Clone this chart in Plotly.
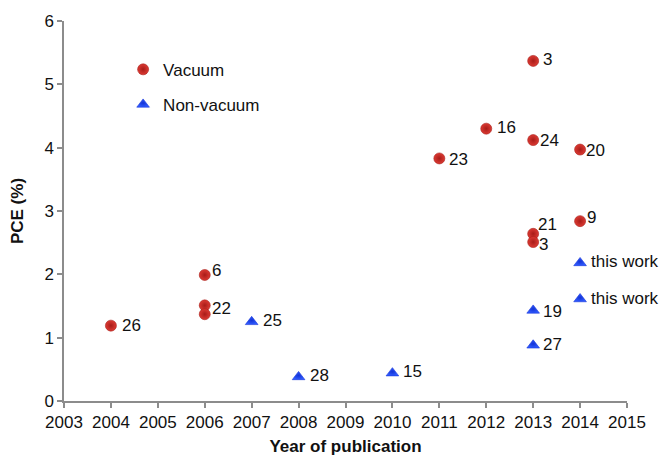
import plotly.graph_objects as go

# ---- data ----
vac_year = [2004, 2006, 2006, 2006, 2011, 2012, 2013, 2013, 2014, 2014, 2013, 2013]
vac_pce = [1.19, 1.99, 1.51, 1.37, 3.83, 4.30, 5.37, 4.12, 3.97, 2.84, 2.64, 2.51]
vac_label = ["26", "6", "22", "", "23", "16", "3", "24", "20", "9", "21", "3"]

nv_year = [2007, 2008, 2010, 2013, 2013, 2014, 2014]
nv_pce = [1.25, 0.38, 0.44, 1.43, 0.88, 2.18, 1.61]
nv_label = ["25", "28", "15", "19", "27", "this work", "this work"]

x_ticks = list(range(2003, 2016))
y_ticks = [0, 1, 2, 3, 4, 5, 6]

# ---- label offsets (style, pixels) ----
vac_dx = [9, 5, 5, 0, 8, 9, 8, 5, 4, 5, 3, 4]
vac_dy = [0, 4, -3, 0, -1, 1, 1, 0, -1, 4, 9, -2]
nv_dx = [9, 9, 9, 8, 8, 9, 9]
nv_dy = [1, 1, 2, -1, 1, 1, 1]

FONT = "Liberation Sans, Arial, Helvetica, sans-serif"
RED = "#dc3a33"
RED_EDGE = "#a81c18"
BLUE = "#2f5bff"
BLUE_EDGE = "#1433d6"

fig = go.Figure()
fig.add_trace(go.Scatter(
    x=vac_year, y=vac_pce, mode="markers", name="Vacuum",
    marker=dict(symbol="circle", size=11, color=RED,
                gradient=dict(type="radial", color=RED_EDGE),
                line=dict(width=0.6, color=RED_EDGE)),
    legendgroup="a",
))
fig.add_trace(go.Scatter(
    x=nv_year, y=nv_pce, mode="markers", name="Non-vacuum",
    marker=dict(symbol="triangle-up", size=11, color=BLUE,
                gradient=dict(type="radial", color=BLUE_EDGE),
                line=dict(width=0.6, color=BLUE_EDGE)),
    legendgroup="b",
))

annotations = []
for xs, ys, labs, dxs, dys in [(vac_year, vac_pce, vac_label, vac_dx, vac_dy),
                               (nv_year, nv_pce, nv_label, nv_dx, nv_dy)]:
    for x, y, t, dx, dy in zip(xs, ys, labs, dxs, dys):
        if not t:
            continue
        annotations.append(dict(
            x=x, y=y, xref="x", yref="y", text=t, showarrow=False,
            xanchor="left", yanchor="middle", xshift=dx, yshift=dy,
            font=dict(family=FONT, size=17, color="#111")))

fig.update_layout(
    width=664, height=456,
    margin=dict(l=64, r=37, t=21, b=55, pad=0),
    paper_bgcolor="white", plot_bgcolor="white",
    font=dict(family=FONT, size=17, color="#111"),
    showlegend=True,
    legend=dict(x=0.105, y=0.919, xanchor="left", yanchor="top",
                bgcolor="rgba(0,0,0,0)", font=dict(family=FONT, size=17, color="#111"),
                traceorder="grouped", tracegroupgap=10, itemwidth=30),
    annotations=annotations,
)
fig.update_xaxes(
    range=[2003, 2015], tickmode="array", tickvals=x_ticks,
    ticktext=[str(v) for v in x_ticks],
    showgrid=False, zeroline=False, showline=True, linecolor="#8c8c8c", linewidth=1.5,
    ticks="outside", ticklen=5, tickcolor="#8c8c8c", tickwidth=1.5,
    tickfont=dict(family=FONT, size=17, color="#111"),
    title=dict(text="<b>Year of publication</b>", standoff=19,
               font=dict(family=FONT, size=17, color="#111")),
    automargin=False,
)
fig.update_yaxes(
    range=[0, 6], tickmode="array", tickvals=y_ticks,
    showgrid=False, zeroline=False, showline=True, linecolor="#8c8c8c", linewidth=1.5,
    ticks="outside", ticklen=5, tickcolor="#8c8c8c", tickwidth=1.5,
    tickfont=dict(family=FONT, size=17, color="#111"),
    title=dict(text="<b>PCE (%)</b>", standoff=16,
               font=dict(family=FONT, size=17, color="#111")),
    automargin=False,
)

fig.write_html("out.html",
               config={"displayModeBar": False},
               post_script="document.body.style.margin='0';document.body.style.overflow='hidden';")
